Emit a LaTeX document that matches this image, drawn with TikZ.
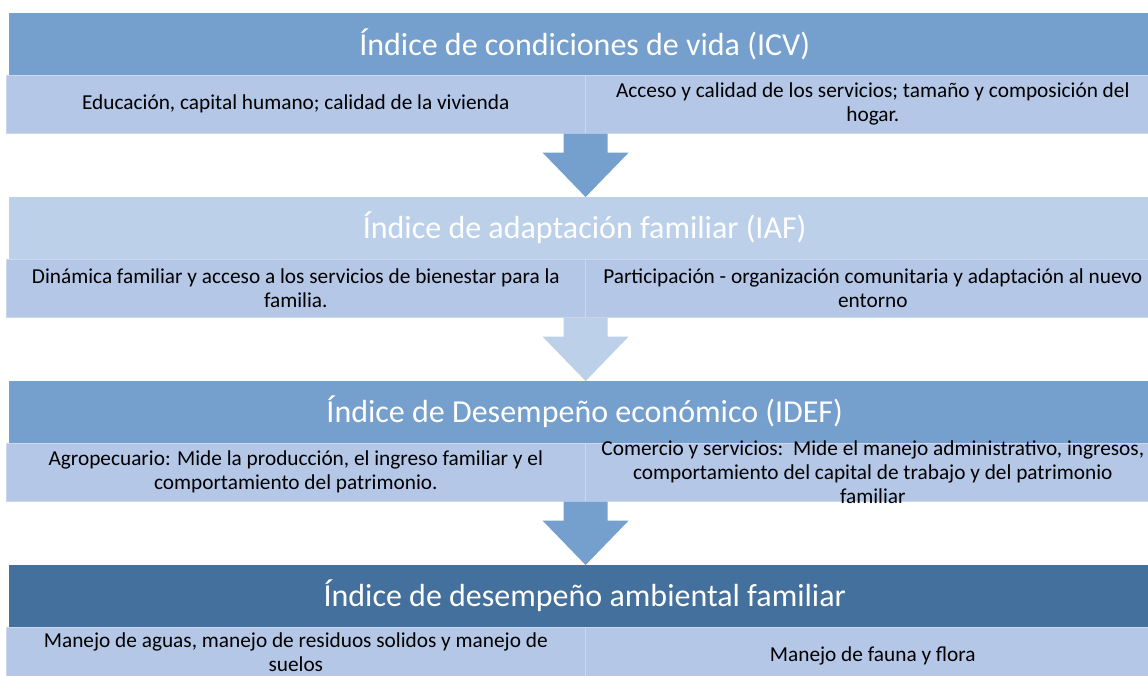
\documentclass[tikz,border=0pt]{standalone}
\usepackage{fontspec}
\setmainfont{Carlito}
\usetikzlibrary{positioning,calc}
\definecolor{medio}{HTML}{759FCD}
\definecolor{claro}{HTML}{B4C7E7}
\definecolor{clarob}{HTML}{BCD0EA}
\definecolor{oscuro}{HTML}{43709C}
\newcommand{\flecha}[3]{%
  \fill[#3] ($(#1.south east)+(-22,0)$) -- ($(#1.south east)+(22,0)$)
    -- ($(#1.south east)+(22,19)$) -- ($(#1.south east)+(43,19)$)
    -- (#1.south east |- #2.north)
    -- ($(#1.south east)+(-43,19)$) -- ($(#1.south east)+(-22,19)$) -- cycle;}

\begin{document}
\begin{tikzpicture}[x=1pt, y=-1pt,
    titulo/.style={rectangle, anchor=north west, minimum width=1151pt, minimum height=62pt, inner sep=0pt, text=white, font=\fontsize{32}{38}\selectfont},
    celda/.style={rectangle, anchor=north west, minimum height=58pt, inner sep=0pt, fill=claro, draw=white!30!claro, line width=0.6pt},
    texto/.style={align=center, inner sep=0pt, font=\fontsize{21.3}{24}\selectfont}
]
    \useasboundingbox[fill=white] (0,0) rectangle (1148,675);

    % ICV
    \node[titulo, fill=medio] (icv) at (9,13) {Índice de condiciones de vida (ICV)};
    \node[celda, minimum width=579pt] (icvA) at (6,75) {};
    \node[celda, minimum width=575pt] (icvB) at (585,75) {};
    \node[texto] (tIcvA) at (icvA) {Educación, capital humano; calidad de la vivienda};
    \node[texto] (tIcvB) at (icvB) {Acceso y calidad de los servicios; tamaño y composición del\\hogar.};

    % IAF
    \node[titulo, fill=clarob] (iaf) at (9,197) {Índice de adaptación familiar (IAF)};
    \node[celda, minimum width=579pt] (iafA) at (6,259) {};
    \node[celda, minimum width=575pt] (iafB) at (585,259) {};
    \node[texto] (tIafA) at (iafA) {Dinámica familiar y acceso a los servicios de bienestar para la\\familia.};
    \node[texto] (tIafB) at (iafB) {Participación - organización comunitaria y adaptación al nuevo\\entorno};

    % IDEF
    \node[titulo, fill=medio] (idef) at (9,381) {Índice de Desempeño económico (IDEF)};
    \node[celda, minimum width=579pt] (idefA) at (6,443) {};
    \node[celda, minimum width=575pt] (idefB) at (585,443) {};
    \node[texto] (tIdefA) at (idefA) {Agropecuario: Mide la producción, el ingreso familiar y el\\comportamiento del patrimonio.};
    \node[texto] (tIdefB) at (idefB) {Comercio y servicios:\ \ Mide el manejo administrativo, ingresos,\\comportamiento del capital de trabajo y del patrimonio\\familiar};

    % ambiental
    \node[titulo, fill=oscuro] (amb) at (9,565) {Índice de desempeño ambiental familiar};
    \node[celda, minimum width=579pt] (ambA) at (6,627) {};
    \node[celda, minimum width=575pt] (ambB) at (585,627) {};
    \node[texto, yshift=4pt] (tAmbA) at (ambA) {Manejo de aguas, manejo de residuos solidos y manejo de\\suelos};
    \node[texto] (tAmbB) at (ambB) {Manejo de fauna y flora};

    \flecha{icvA}{iaf}{medio}
    \flecha{iafA}{idef}{clarob}
    \flecha{idefA}{amb}{medio}
\end{tikzpicture}
\end{document}
